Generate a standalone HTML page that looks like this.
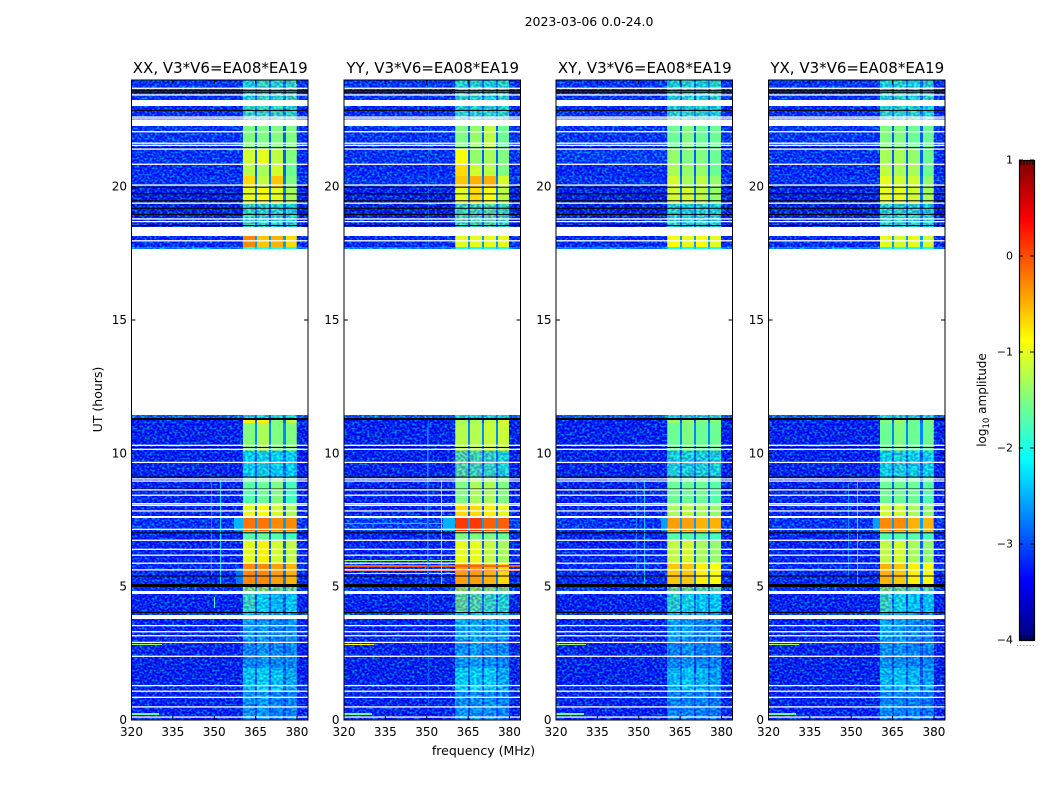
<!DOCTYPE html>
<html lang="en">
<head>
<meta charset="utf-8">
<title>2023-03-06 amplitude waterfall</title>
<style>
html,body{margin:0;padding:0;background:#fff;width:1050px;height:800px;overflow:hidden}
svg{display:block}
text{font-family:"DejaVu Sans","Liberation Sans",sans-serif;fill:#000}
</style>
</head>
<body>
<svg id="chart" xmlns="http://www.w3.org/2000/svg" width="1050" height="800" viewBox="0 0 1050 800">
  <defs>
    <filter id="speckle" x="0" y="0" width="100%" height="100%" color-interpolation-filters="sRGB">
      <feTurbulence type="fractalNoise" baseFrequency="0.4 0.5" numOctaves="1" seed="7"/>
      <feColorMatrix type="matrix" values="0 0 0 0 0  3.2 0 0 0 -1.35  0 0 2 0 0.1  0 0 0 0 0.55"/>
    </filter>
    <filter id="speckleSoft" x="0" y="0" width="100%" height="100%" color-interpolation-filters="sRGB">
      <feTurbulence type="fractalNoise" baseFrequency="0.35 0.45" numOctaves="1" seed="11"/>
      <feColorMatrix type="matrix" values="0 0 0 0 0  3.2 0 0 0 -1.15  0 0 2 0 0  0 0 0 0 0.4"/>
    </filter>
  </defs>
</svg>
<script>
// ---------- chart data (UT hours, MHz, log10 amplitude) ----------
const panelTitles = ["XX, V3*V6=EA08*EA19","YY, V3*V6=EA08*EA19","XY, V3*V6=EA08*EA19","YX, V3*V6=EA08*EA19"];
const xTicks = [320,335,350,365,380];
const yTicks = [0,5,10,15,20];
const colorbarTicks = [1,0,-1,-2,-3,-4];
const subBands = [[360.4,364.8],[365.6,369.9],[370.6,375],[375.9,380]];
const bandTopUT = [24,23.03,22.29,21.41,20.84,20.4,20,19.4,18.15,17.75,11.44,11.25,11.14,10.1,9.1,8.1,7.6,7.1,6.75,5.88,5.0,4.73,4.05,3.79,3.0,1.95,1.1];
const gapLevels = [-2.9,-2.7,-2.9,-2.9,-2.9,-2.8,-2.8,-3.0,-2.6,-2.4,-2.8,-2.9,-2.7,-2.9,-2.9,-2.9,-2.6,-2.9,-2.9,-2.8,-2.8,-3,-3.1,-3.0,-3.1,-3.0,-3.1];
const softSpeckleRanges = [[24,22.29],[19.4,18.5],[11.44,11.31],[10.1,9.1],[5,0]];
// each row: background, sub-band 1..4
const xxLevels = [
[-3.2,-1.9,-1.7,-1.8,-1.7],[-3.3,-1.7,-1.7,-1.7,-1.8],[-3.2,-1.5,-1.5,-1.5,-1.5],[-3.2,-1.1,-1.0,-1.2,-1.5],
[-3.3,-1.2,-1.3,-1.1,-1.6],[-3.2,-0.7,-1.2,-0.6,-1.5],[-3.6,-1.0,-0.9,-1.0,-1.3],[-3.7,-1.7,-1.8,-1.8,-1.9],
[-3.3,-0.3,-0.6,-0.5,-0.7],[-2.4,-2.0,-2.0,-2.0,-2.0],[-2.8,-2.0,-2.0,-2.0,-2.0],[-3.4,-0.8,-0.8,-1.5,-1.2],
[-3.5,-1.5,-1.3,-1.5,-1.5],[-3.5,-2.1,-2.0,-2.1,-2.1],[-3.4,-1.7,-1.6,-1.5,-1.8],[-3.4,-1.0,-0.9,-1.1,-1.3],
[-3.2,-0.2,-0.2,-0.3,-0.3],[-3.4,-1.7,-1.6,-1.7,-1.8],[-3.4,-1.0,-0.8,-1.1,-1.2],[-3.3,-0.3,-0.3,-0.4,-0.5],
[-3.2,-1.1,-1.1,-1.3,-1.3],[-3.5,-1.7,-2.1,-2.3,-2.2],[-3.1,-2.3,-2.4,-2.5,-2.5],[-3.4,-2.5,-2.5,-2.7,-2.6],
[-3.5,-2.7,-2.6,-2.7,-2.7],[-3.5,-2.2,-2.1,-2.2,-2.4],[-3.5,-2.6,-2.5,-2.7,-2.7]];
const yyLevels = [
[-3.2,-1.8,-1.8,-1.9,-1.8],[-3.3,-1.8,-1.8,-1.8,-1.8],[-3.2,-1.5,-1.4,-1.2,-1.6],[-3.2,-0.9,-1.4,-1.3,-1.5],
[-3.3,-0.7,-1.1,-1.2,-1.5],[-3.2,-0.6,-0.5,-0.5,-1.1],[-3.6,-1.0,-0.7,-0.9,-1.2],[-3.7,-1.6,-1.6,-1.5,-1.7],
[-3.3,-1.0,-1.0,-1.0,-1.0],[-2.4,-2.0,-2.0,-2.0,-2.0],[-2.8,-2.0,-2.0,-2.0,-2.0],[-3.4,-1.3,-1.3,-1.2,-1.1],
[-3.5,-1.25,-1.25,-1.15,-1.15],[-3.5,-1.5,-1.6,-1.7,-1.9],[-3.4,-1.5,-1.3,-1.3,-1.5],[-3.4,-0.7,-0.7,-0.8,-1.0],
[-3.1,0.1,0.1,-0.1,-0.1],[-3.4,-1.5,-1.5,-1.5,-1.6],[-3.4,-1.0,-1.0,-1.2,-1.3],[-3.3,-0.4,-0.4,-0.5,-0.7],
[-3.2,-1.0,-1.0,-1.2,-1.2],[-3.5,-1.4,-1.5,-1.7,-1.8],[-3.1,-2.1,-2.3,-2.3,-2.4],[-3.4,-2.4,-2.4,-2.5,-2.5],
[-3.5,-2.6,-2.5,-2.6,-2.7],[-3.5,-2.1,-2.1,-2.1,-2.4],[-3.5,-2.6,-2.6,-2.6,-2.7]];
const xyLevels = [
[-3.2,-1.9,-1.8,-1.9,-1.8],[-3.3,-1.8,-1.8,-1.8,-1.9],[-3.2,-1.6,-1.5,-1.6,-1.6],[-3.1,-1.4,-1.5,-1.5,-1.6],
[-3.3,-1.3,-1.4,-1.4,-1.6],[-3.2,-1.1,-1.3,-1.2,-1.4],[-3.6,-1.1,-1.1,-1.2,-1.4],[-3.7,-1.8,-1.9,-1.8,-1.9],
[-3.3,-0.9,-1.0,-0.9,-1.0],[-2.4,-2.0,-2.0,-2.0,-2.0],[-2.8,-2.0,-2.0,-2.0,-2.0],[-3.4,-1.4,-1.4,-1.5,-1.5],
[-3.5,-1.6,-1.5,-1.6,-1.6],[-3.5,-1.9,-1.9,-1.9,-1.9],[-3.4,-1.6,-1.6,-1.6,-1.7],[-3.4,-1.3,-1.2,-1.3,-1.4],
[-3.2,-0.4,-0.4,-0.5,-0.5],[-3.4,-1.7,-1.7,-1.7,-1.8],[-3.4,-1.2,-1.1,-1.3,-1.4],[-3.3,-0.6,-0.6,-0.8,-0.9],
[-3.2,-1.3,-1.3,-1.5,-1.5],[-3.5,-1.8,-2.0,-2.2,-2.2],[-3.1,-2.4,-2.5,-2.6,-2.6],[-3.4,-2.5,-2.5,-2.7,-2.7],
[-3.5,-2.7,-2.6,-2.7,-2.7],[-3.5,-2.3,-2.2,-2.3,-2.5],[-3.5,-2.7,-2.7,-2.7,-2.8]];
const yxLevels = [
[-3.2,-1.9,-1.8,-1.9,-1.8],[-3.3,-1.8,-1.8,-1.8,-1.9],[-3.2,-1.5,-1.5,-1.6,-1.6],[-3.2,-1.3,-1.3,-1.4,-1.6],
[-3.3,-1.2,-1.3,-1.3,-1.6],[-3.2,-1.0,-1.1,-1.1,-1.4],[-3.6,-1.0,-1.0,-1.1,-1.3],[-3.7,-1.8,-1.8,-1.8,-1.9],
[-3.3,-1.0,-1.1,-1.0,-1.1],[-2.4,-2.0,-2.0,-2.0,-2.0],[-2.8,-2.0,-2.0,-2.0,-2.0],[-3.4,-1.5,-1.4,-1.6,-1.5],
[-3.5,-1.6,-1.5,-1.6,-1.6],[-3.5,-2.0,-1.9,-2.0,-2.0],[-3.4,-1.6,-1.6,-1.6,-1.7],[-3.4,-1.1,-1.1,-1.3,-1.4],
[-3.2,-0.3,-0.3,-0.5,-0.5],[-3.4,-1.7,-1.7,-1.7,-1.8],[-3.4,-1.2,-1.1,-1.3,-1.4],[-3.3,-0.5,-0.6,-0.8,-0.9],
[-3.2,-1.2,-1.3,-1.4,-1.5],[-3.5,-1.7,-2.0,-2.2,-2.2],[-3.1,-2.3,-2.4,-2.6,-2.6],[-3.4,-2.4,-2.5,-2.7,-2.7],
[-3.5,-2.6,-2.6,-2.7,-2.7],[-3.5,-2.3,-2.2,-2.3,-2.5],[-3.5,-2.7,-2.7,-2.7,-2.8]];
const panelLevels = [xxLevels,yyLevels,xyLevels,yxLevels];
// narrow horizontal interference: panel, UT top, UT bottom, f start, f end, level
const rfiStreaks = [
[0,2.86,2.80,320,331,-1.4],[0,0.25,0.20,320,330,-1.6],[0,7.58,7.1,357,360.4,-2.5],[0,5.7,5.1,358,360.4,-2.8],
[1,2.86,2.80,320,331,-0.9],[1,0.25,0.20,320,330,-1.6],[1,6.0,5.95,320,360.4,-1.4],[1,5.8,5.74,320,384,-0.1],
[1,5.65,5.58,320,384,0.15],[1,5.52,5.47,320,360.4,-0.8],[1,7.4,7.34,320,360.4,-2.4],[1,7.58,7.1,356,360.4,-2.5],
[2,2.86,2.80,320,331,-1.4],[2,0.25,0.20,320,330,-1.6],[2,7.58,7.1,358,360.4,-2.6],
[3,2.86,2.80,320,331,-1.3],[3,0.25,0.20,320,330,-1.6],[3,7.58,7.1,358,360.4,-2.6]];
// narrow vertical interference: panel, frequency, UT top, UT bottom, level
const rfiChannels = [
[0,352,9.0,5.1,-2.3],[0,350,4.6,4.2,-1.8],[0,349,8.9,5.4,-2.7],
[1,355,9.0,5.1,-1.8],[1,350.5,24,0.6,-2.9],[1,350,11,5,-2.7],
[2,352,9.0,5.1,-2.4],[2,349,8.9,5.4,-2.7],
[3,352,9.0,5.1,-2.3],[3,349,8.9,5.4,-2.7]];
const flagLines = [23.69,23.44,22.61,22.54,22.06,21.63,21.55,21.41,20.84,20.06,19.38,18.79,18.69,17.97,10.30,10.15,9.66,9.04,8.96,8.63,8.43,8.11,8.05,7.84,7.15,6.74,6.40,6.18,5.88,5.63,3.54,3.31,3.16,2.91,2.39,1.29,1.08,0.85,0.49,0.11];
const flagBands = [[23.25,23.03],[22.5,22.29],[18.5,18.15],[17.66,11.44],[7.65,7.58],[4.84,4.73],[3.94,3.79]];
const lowLines = [23.6,23.54,22.86,21.46,19.98,19.73,19.47,19.19,18.96,18.54,10.22,9.11,8.66,7.02,5.4,4.03];
const lowBands = [[11.31,11.25],[5.1,4.99]];

// ---------- layout ----------
const NS = "http://www.w3.org/2000/svg";
const svg = document.getElementById("chart");
const panelLeft = [131.5,344,556,768.5];
const panelWidth = 176.5, plotTop = 80, plotBottom = 720;
const xMin = 320, xMax = 384, utMax = 24, cMin = -4, cMax = 1;
const cbLeft = 1019, cbRight = 1034, cbTop = 160, cbBottom = 640;

function xScale(p, f){ return panelLeft[p] + (f - xMin) / (xMax - xMin) * panelWidth; }
function yScale(ut){ return plotBottom - ut / utMax * (plotBottom - plotTop); }
function cScale(v){ return cbBottom - (v - cMin) / (cMax - cMin) * (cbBottom - cbTop); }
function jet(v){
  const t = Math.max(0, Math.min(1, (v - cMin) / (cMax - cMin)));
  const ch = d => Math.round(255 * Math.max(0, Math.min(1, 1.5 - Math.abs(4 * t - d))));
  return "rgb(" + ch(3) + "," + ch(2) + "," + ch(1) + ")";
}
function make(tag, attrs, parent){
  const el = document.createElementNS(NS, tag);
  for (const k in attrs) el.setAttribute(k, attrs[k]);
  (parent || svg).appendChild(el);
  return el;
}
function block(g, x0, x1, y0, y1, fill){
  const x = Math.round(x0), y = Math.round(y0);
  return make("rect", {x:x, y:y, width:Math.max(1, Math.round(x1) - x), height:Math.max(1, Math.round(y1) - y), fill:fill, "shape-rendering":"crispEdges"}, g);
}
function thinLine(g, x0, x1, ut, h, fill){
  return make("rect", {x:x0, y:yScale(ut) - h / 2, width:x1 - x0, height:h, fill:fill}, g);
}
function label(txt, x, y, size, anchor){
  const t = make("text", {x:x, y:y, "font-size":size, "text-anchor":anchor || "middle"});
  t.textContent = txt;
  return t;
}

// ---------- figure title ----------
const figTitle = label("2023-03-06 0.0-24.0", 589, 26, 12.5);



// ---------- panels ----------
panelTitles.forEach(function(title, p){
  const g = make("g", {});
  
  
  const left = panelLeft[p], right = left + panelWidth;

  const heat = make("g", {}, g);
  
  
  bandTopUT.forEach(function(top, r){
    const bottom = r + 1 < bandTopUT.length ? bandTopUT[r + 1] : 0;
    const y0 = yScale(top), y1 = yScale(bottom);
    const row = panelLevels[p][r];
    const bg = block(heat, left, right, y0, y1, jet(row[0]));
    
    
    const gap = block(heat, xScale(p, subBands[0][1]), xScale(p, subBands[3][0]), y0, y1, jet(gapLevels[r]));
    
    
    subBands.forEach(function(sb, s){
      const c = block(heat, xScale(p, sb[0]), xScale(p, sb[1]), y0, y1, jet(row[s + 1]));
      
      
    });
  });

  // receiver-noise texture
  const n1 = make("rect", {x:left, y:plotTop, width:xScale(p, subBands[0][0]) - left, height:plotBottom - plotTop, filter:"url(#speckle)"}, g);
  
  
  const n2 = make("rect", {x:xScale(p, subBands[3][1]), y:plotTop, width:right - xScale(p, subBands[3][1]), height:plotBottom - plotTop, filter:"url(#speckle)"}, g);
  
  
  softSpeckleRanges.forEach(function(b){
    const n3 = make("rect", {x:xScale(p, subBands[0][0]), y:yScale(b[0]), width:xScale(p, subBands[3][1]) - xScale(p, subBands[0][0]), height:yScale(b[1]) - yScale(b[0]), filter:"url(#speckleSoft)"}, g);
    
    
  });

  rfiStreaks.filter(function(d){ return d[0] === p; }).forEach(function(d){
    const s = block(g, xScale(p, d[3]), xScale(p, d[4]), yScale(d[1]), yScale(d[2]), jet(d[5]));
    
    
  });
  rfiChannels.filter(function(d){ return d[0] === p; }).forEach(function(d){
    const s = block(g, xScale(p, d[1]), xScale(p, d[1]) + 1, yScale(d[2]), yScale(d[3]), jet(d[4]));
    
    
  });

  lowLines.forEach(function(ut){
    const s = thinLine(g, left, right, ut, 1, "#000");
    
    
  });
  lowBands.forEach(function(b){
    const s = block(g, left, right, yScale(b[0]), yScale(b[1]), "#000");
    
    
  });
  flagLines.forEach(function(ut){
    const s = thinLine(g, left, right, ut, 1.3, "#fff");
    
    
  });
  flagBands.forEach(function(b){
    const s = block(g, left, right, yScale(b[0]), yScale(b[1]), "#fff");
    
    
  });

  // frame
  const frame = make("rect", {x:left, y:plotTop, width:panelWidth, height:plotBottom - plotTop, fill:"none", stroke:"#000", "stroke-width":1}, g);
  
  

  // ticks
  xTicks.forEach(function(f){
    const x = xScale(p, f);
    const tb = make("line", {x1:x, x2:x, y1:plotBottom, y2:plotBottom - 4, stroke:"#000"}, g);
    
    
    const tt = make("line", {x1:x, x2:x, y1:plotTop, y2:plotTop + 4, stroke:"#000"}, g);
    
    
    const lb = label(String(f), x, 736, 12);
    
    
  });
  yTicks.forEach(function(ut){
    const y = yScale(ut);
    const tl = make("line", {x1:left, x2:left + 4, y1:y, y2:y, stroke:"#000"}, g);
    
    
    const tr = make("line", {x1:right, x2:right - 4, y1:y, y2:y, stroke:"#000"}, g);
    
    
    const lb = label(String(ut), left - 4.5, y + 4, 12, "end");
    
    
  });

  const pt = label(title, left + panelWidth / 2 + 0.5, 73, 15);
  
  
});

// ---------- axis titles ----------
const xTitle = label("frequency (MHz)", 483.5, 755, 12.5);


const yTitle = label("UT (hours)", 0, 0, 12.5);
yTitle.setAttribute("transform", "translate(102,399.5) rotate(-90)");



// ---------- colorbar ----------
const cb = make("g", {});


const cbSteps = 240;
for (let i = 0; i < cbSteps; i++){
  const v0 = cMax - (cMax - cMin) * i / cbSteps;
  const v1 = cMax - (cMax - cMin) * (i + 1) / cbSteps;
  const s = make("rect", {x:cbLeft, y:cScale(v0), width:cbRight - cbLeft, height:cScale(v1) - cScale(v0) + 0.5, fill:jet((v0 + v1) / 2), "shape-rendering":"crispEdges"}, cb);
  
  
}
const cbFrame = make("rect", {x:cbLeft + 0.5, y:cbTop + 0.5, width:cbRight - cbLeft, height:cbBottom - cbTop, fill:"none", stroke:"#000", "stroke-width":1.2}, cb);


colorbarTicks.forEach(function(v){
  const y = cScale(v);
  const a = make("line", {x1:cbLeft, x2:cbLeft + 4, y1:y, y2:y, stroke:"#000"}, cb);
  
  
  const b = make("line", {x1:cbRight, x2:cbRight - 4, y1:y, y2:y, stroke:"#000"}, cb);
  
  
  const t = label(String(v).replace("-", "\u2212"), cbLeft - 6, y + 3.5, 11, "end");
  
  
});
[0.2,0.4,0.6,0.8,1].forEach(function(fr){
  const x = cbLeft + fr * (cbRight - cbLeft) - 1;
  const a = make("line", {x1:x, x2:x, y1:cbTop, y2:cbTop + 5, stroke:"#000", "stroke-width":0.8}, cb);
  
  
  const b = make("line", {x1:x, x2:x, y1:cbBottom, y2:cbBottom - 5, stroke:"#000", "stroke-width":0.8}, cb);
  
  
});
const cbDots = label("......", 1026, 646, 6);
cbDots.setAttribute("letter-spacing", "1.2");
cbDots.setAttribute("fill", "#777");


const cbTitle = make("text", {"font-size":12, "text-anchor":"middle", transform:"translate(986,400) rotate(-90)"});


const part1 = make("tspan", {}, cbTitle);
part1.textContent = "log";
const part2 = make("tspan", {"font-size":8.5, dy:3}, cbTitle);
part2.textContent = "10";
const part3 = make("tspan", {dy:-3}, cbTitle);
part3.textContent = " amplitude";
</script>
</body>
</html>
